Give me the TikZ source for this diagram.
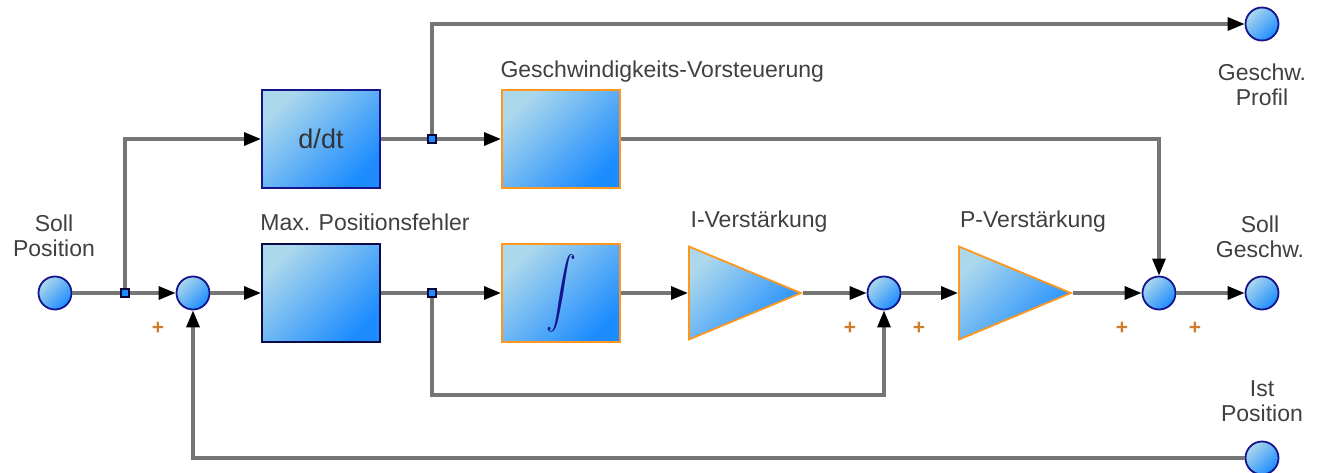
\documentclass[tikz,border=0pt]{standalone}
\usepackage{fontspec}
\setmainfont{Liberation Sans}
\usetikzlibrary{arrows.meta,positioning,shapes.geometric}
\definecolor{wire}{RGB}{118,118,118}
\definecolor{navy}{RGB}{20,20,140}
\definecolor{rim}{RGB}{255,150,30}
\definecolor{skylt}{RGB}{172,216,236}
\definecolor{skydk}{RGB}{28,140,255}
\definecolor{txt}{RGB}{64,64,64}
\definecolor{plus}{RGB}{205,125,45}

\begin{document}
\begin{tikzpicture}[x=1pt,y=-1pt,font=\fontsize{23}{25}\selectfont,text=txt,
  sig/.style={draw=wire,line width=3.2pt},
  arr/.style={sig,-{Triangle[length=17pt,width=13pt,color=black]}},
  bluefill/.style={top color=skylt,bottom color=skydk,shading angle=45},
  port/.style={circle,bluefill,draw=navy,line width=1.8pt,minimum size=33pt,inner sep=0pt},
  block/.style={rectangle,bluefill,line width=2pt,minimum width=118pt,minimum height=98pt,inner sep=0pt},
  gain/.style={isosceles triangle,isosceles triangle stretches,bluefill,draw=rim,line width=1.8pt,
    minimum width=93pt,minimum height=112pt,inner sep=0pt,anchor=west},
  tap/.style={rectangle,draw=navy!40!black,fill=skydk,line width=2.2pt,minimum size=8pt,inner sep=0pt},
  lbl/.style={align=center},
  pm/.style={text=plus,font=\fontsize{21}{21}\selectfont\bfseries}]
\useasboundingbox (0,0) rectangle (1325,472);
% ports and summing points
\node[port] (soll) at (55,293) {};
\node[port] (sum1) at (193,293) {};
\node[port] (sum2) at (884,293) {};
\node[port] (sum3) at (1159,293) {};
\node[port] (sollg) at (1262,293) {};
\node[port] (profil) at (1262,24) {};
\node[port] (ist) at (1262,458) {};
% blocks
\node[block,draw=navy] (ddt) at (321,139) {\color{black!80}\fontsize{27}{27}\selectfont d/dt};
\node[block,draw=rim,right=120pt of ddt] (vorst) {};
\node[block,draw=navy!50!black] (maxp) at (321,293) {};
\node[block,draw=rim,right=120pt of maxp] (integ) {\color{navy}\fontsize{10}{12}\selectfont\scalebox{3}[3.5]{$\displaystyle\int$}};
\node[gain] (itri) at (688,293) {};
\node[gain] (ptri) at (958,293) {};
% branch points
\node[tap] (b1) at (125,293) {};
\node[tap] (b2) at (432,293) {};
\node[tap] (b3) at (432,139) {};
% labels
\node[lbl] (lsoll) at (54,236) {Soll\\Position};
\node[lbl] (lmaxp) at (365,222) {Max. Positionsfehler};
\node[lbl,anchor=west] (lvorst) at (497,72) {Geschwindigkeits-Vorsteuerung};
\node[lbl] (litri) at (759,222) {I-Verstärkung};
\node[lbl] (lptri) at (1033,222) {P-Verstärkung};
\node[lbl] (lprofil) at (1262,85) {Geschw.\\Profil};
\node[lbl] (lsollg) at (1260,237) {Soll\\Geschw.};
\node[lbl] (list) at (1262,401) {Ist\\Position};
\node[pm] (pl1) at (158,328) {+};
\node[pm] (pl2) at (850,328) {+};
\node[pm] (pl3) at (919,328) {+};
\node[pm] (pl4) at (1122,328) {+};
\node[pm] (pl5) at (1195,328) {+};
% signal lines
\draw[sig] (soll) -- (b1);
\draw[arr] (b1) -- (sum1);
\draw[arr] (b1) |- (ddt);
\draw[arr] (sum1) -- (maxp);
\draw[sig] (maxp) -- (b2);
\draw[arr] (b2) -- (integ);
\draw[arr] (integ) -- (itri);
\draw[arr] (itri.apex) -- (sum2);
\draw[arr] (b2) -- ++(0,102) -| (sum2);
\draw[arr] (sum2) -- (ptri);
\draw[arr] (ptri.apex) -- (sum3);
\draw[arr] (sum3) -- (sollg);
\draw[sig] (ddt) -- (b3);
\draw[arr] (b3) -- (vorst);
\draw[arr] (b3) |- (profil);
\draw[arr] (vorst) -| (sum3);
\draw[arr] (ist) -| (sum1);
% taps on top
\node[tap] at (b1) {};
\node[tap] at (b2) {};
\node[tap] at (b3) {};
\end{tikzpicture}
\end{document}
